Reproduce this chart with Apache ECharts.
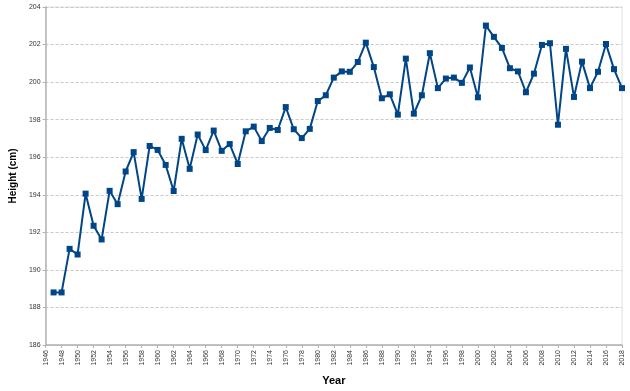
<!DOCTYPE html>
<html>
<head>
<meta charset="utf-8">
<script src="https://cdn.jsdelivr.net/npm/echarts@6/dist/echarts.min.js"></script>
<style>html,body{margin:0;padding:0;background:#fff}#c{width:630px;height:391px}</style>
</head>
<body>
<div id="c"></div>
<script>
var years = [1947,1948,1949,1950,1951,1952,1953,1954,1955,1956,1957,1958,1959,1960,1961,1962,1963,1964,1965,1966,1967,1968,1969,1970,1971,1972,1973,1974,1975,1976,1977,1978,1979,1980,1981,1982,1983,1984,1985,1986,1987,1988,1989,1990,1991,1992,1993,1994,1995,1996,1997,1998,1999,2000,2001,2002,2003,2004,2005,2006,2007,2008,2009,2010,2011,2012,2013,2014,2015,2016,2017,2018];
var heights = [188.8,188.8,191.12,190.82,194.06,192.35,191.62,194.21,193.5,195.24,196.27,193.78,196.6,196.39,195.59,194.2,196.98,195.38,197.21,196.38,197.42,196.34,196.7,195.64,197.38,197.63,196.86,197.56,197.45,198.67,197.49,197.02,197.51,198.99,199.3,200.24,200.57,200.55,201.07,202.1,200.8,199.14,199.35,198.27,201.25,198.32,199.3,201.54,199.68,200.19,200.24,199.96,200.78,199.19,203.01,202.41,201.82,200.74,200.57,199.46,200.45,201.98,202.07,197.73,201.77,199.21,201.09,199.68,200.55,202.03,200.69,199.68];
var xMin = 1946, xMax = 2018, xStep = 2;
var yMin = 186, yMax = 204, yStep = 2;
var xTitle = 'Year', yTitle = 'Height (cm)';

var data = years.map(function(y, i){ return [y, heights[i]]; });
var chart = echarts.init(document.getElementById('c'), null, {renderer:'canvas'});
chart.setOption({
  animation: false,
  backgroundColor: '#ffffff',
  grid: {left: 39, right: 8, top: 7, bottom: 40, show: true, borderColor: '#e0e0e0', borderWidth: 1},
  xAxis: {
    type: 'value', min: xMin, max: xMax, interval: xStep,
    name: xTitle, nameLocation: 'middle', nameGap: 30,
    nameTextStyle: {fontFamily: 'Liberation Sans', fontWeight: 'bold', fontSize: 11, color: '#000'},
    axisLine: {show: true, onZero: false, lineStyle: {color: '#b3b3b3', width: 1.5}},
    axisTick: {show: true, length: 3, lineStyle: {color: '#b3b3b3'}},
    axisLabel: {rotate: 90, fontSize: 7, color: '#333', fontFamily: 'Liberation Sans', margin: 5,
      formatter: function(v){ return String(v); }},
    splitLine: {show: false}
  },
  yAxis: {
    type: 'value', min: yMin, max: yMax, interval: yStep,
    name: yTitle, nameLocation: 'middle', nameGap: 23,
    nameTextStyle: {fontFamily: 'Liberation Sans', fontWeight: 'bold', fontSize: 10, color: '#000'},
    axisLine: {show: true, lineStyle: {color: '#b3b3b3', width: 1.5}},
    axisTick: {show: true, length: 3, lineStyle: {color: '#b3b3b3'}},
    axisLabel: {fontSize: 7, color: '#333', fontFamily: 'Liberation Sans', margin: 5},
    splitLine: {show: true, lineStyle: {color: '#c8c8c8', type: [3, 2], width: 1}}
  },
  series: [{
    type: 'line',
    data: data,
    symbol: 'rect',
    symbolSize: 6,
    showAllSymbol: true,
    lineStyle: {color: '#004586', width: 2},
    itemStyle: {color: '#004586'}
  }]
});
</script>
</body>
</html>
